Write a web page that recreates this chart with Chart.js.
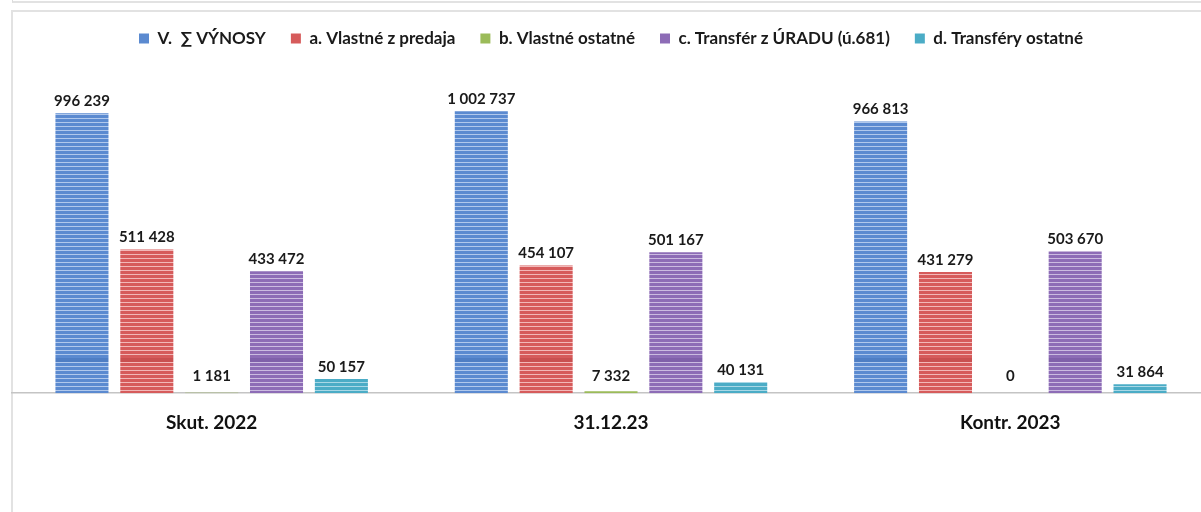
<!DOCTYPE html>
<html><head><meta charset="utf-8">
<script src="https://cdn.jsdelivr.net/npm/chart.js@4"></script>
<style>
html,body{margin:0;padding:0;overflow:hidden;background:#fff;width:1201px;height:512px;}
#wrap{position:absolute;left:0;top:0;width:1210px;height:512px;}
.f1{position:absolute;left:12px;top:-2px;width:1300px;height:3px;border-left:1px solid #dcdcdc;border-bottom:2px solid #e2e2e2;}
.f2{position:absolute;left:11px;top:10px;width:1300px;height:600px;border-left:2px solid #e2e2e2;border-top:2px solid #e2e2e2;}
</style></head>
<body>
<div class="f1"></div><div class="f2"></div>
<div id="wrap"><canvas id="c"></canvas></div>
<script>
const categories = ['Skut. 2022', '31.12.23', 'Kontr. 2023'];
const seriesNames = ['V.  ∑ VÝNOSY', 'a. Vlastné z predaja', 'b. Vlastné ostatné', 'c. Transfér z ÚRADU (ú.681)', 'd. Transféry ostatné'];
const vynosy = [996239, 1002737, 966813];
const vlastneZPredaja = [511428, 454107, 431279];
const vlastneOstatne = [1181, 7332, 0];
const transferZUradu = [433472, 501167, 503670];
const transferyOstatne = [50157, 40131, 31864];

const baseColors = ['#5b8ad0', '#d65b5b', '#9bbb59', '#8d6cb6', '#4bacc6'];
const lightColors = ['#b0c8ec', '#f2b8b8', '#cfe0aa', '#cbbbe0', '#a9d8e6'];
const darkColors = ['#4f7ec4', '#c95050', '#8fae4f', '#8060aa', '#3fa0ba'];

function makePattern(i) {
  const pc = document.createElement('canvas');
  pc.width = 4; pc.height = 512;
  const g = pc.getContext('2d');
  for (let y = 0; y < 512; y++) {
    const r = y % 4;
    g.fillStyle = r === 2 ? lightColors[i] : baseColors[i];
    if (y >= 358 && y <= 361) g.fillStyle = darkColors[i];
    g.fillRect(0, y, 4, 1);
  }
  return g.createPattern(pc, 'repeat');
}

function fmt(v) {
  return String(v).replace(/\B(?=(\d{3})+(?!\d))/g, ' ');
}

const seriesValues = [vynosy, vlastneZPredaja, vlastneOstatne, transferZUradu, transferyOstatne];

const valueLabels = {
  id: 'valueLabels',
  afterDatasetsDraw(chart) {
    const ctx = chart.ctx;
    ctx.save();
    ctx.font = 'bold 15px Lato';
    ctx.fillStyle = '#1a1a1a';
    ctx.textAlign = 'center';
    ctx.textBaseline = 'middle';
    chart.data.datasets.forEach((ds, di) => {
      const meta = chart.getDatasetMeta(di);
      meta.data.forEach((el, i) => {
        const y = Math.min(el.y, el.base - 5) - 12;
        ctx.fillText(fmt(ds.data[i]), el.x, y);
      });
    });
    ctx.restore();
  }
};

const ctx = document.getElementById('c').getContext('2d');
new Chart(ctx, {
  type: 'bar',
  data: {
    labels: categories,
    datasets: seriesValues.map((vals, i) => ({
      label: seriesNames[i],
      data: vals,
      backgroundColor: makePattern(i),
      borderWidth: 0,
      categoryPercentage: 0.812,
      barPercentage: 0.818
    }))
  },
  options: {
    responsive: true,
    maintainAspectRatio: false,
    animation: false,
    layout: { padding: { left: 12, right: 0, top: 5, bottom: 60 } },
    plugins: {
      tooltip: { enabled: false },
      legend: {
        position: 'top',
        labels: {
          boxWidth: 10,
          boxHeight: 10,
          padding: 25,
          color: '#1a1a1a',
          font: { family: 'Lato', size: 17, weight: 'bold' },
          generateLabels(chart) {
            const items = Chart.defaults.plugins.legend.labels.generateLabels(chart);
            items.forEach((it, i) => { it.fillStyle = baseColors[i]; it.strokeStyle = baseColors[i]; it.lineWidth = 0; });
            return items;
          }
        }
      }
    },
    scales: {
      x: {
        grid: { display: false, drawTicks: false },
        border: { display: true, color: '#c4c4c4', width: 1.5 },
        ticks: { color: '#111', padding: 18, font: { family: 'Lato', size: 19, weight: 'bold' } }
      },
      y: { display: false, min: 0, max: 1196000 }
    }
  },
  plugins: [valueLabels]
});
</script>
</body></html>
